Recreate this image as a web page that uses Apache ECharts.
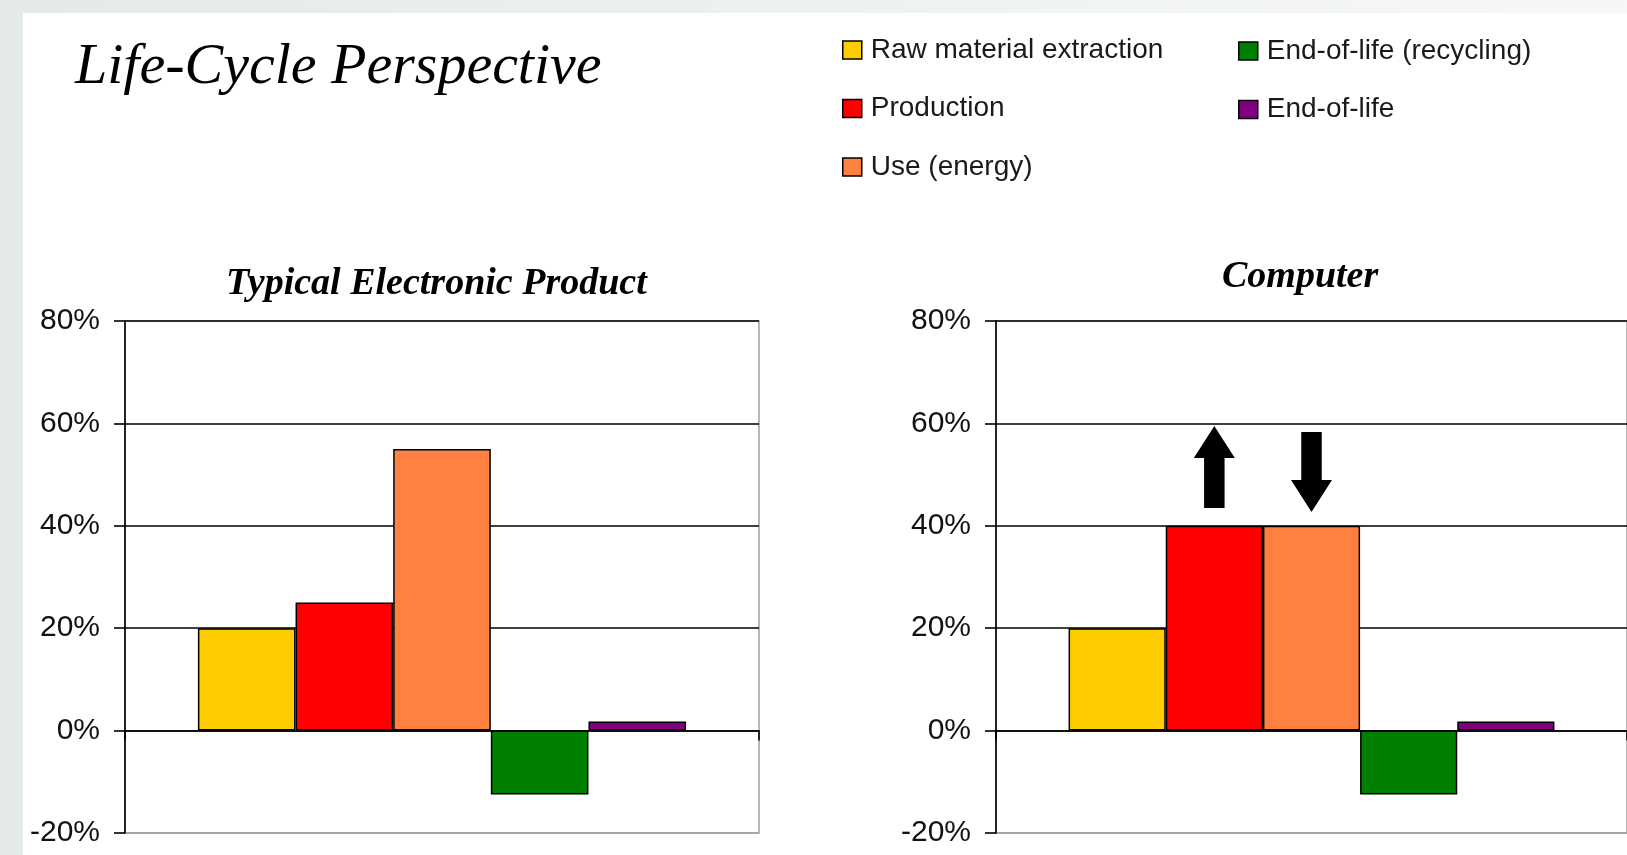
<!DOCTYPE html>
<html>
<head>
<meta charset="utf-8">
<script src="https://cdn.jsdelivr.net/npm/echarts@6/dist/echarts.min.js"></script>
<style>
  html, body { margin: 0; padding: 0; }
  body { width: 1627px; height: 855px; position: relative; overflow: hidden;
         background: linear-gradient(90deg, #e3eae7 0%, #edf2f0 50%, #f6f8f7 100%); }
  #panel { position: absolute; left: 23px; top: 13px; right: 0; bottom: 0; background: #ffffff; }
  #chart { position: absolute; left: 0; top: 0; width: 1627px; height: 855px; }
</style>
</head>
<body>
<div id="panel"></div>
<div id="chart"></div>
<script>
// ---- data ----
const stages = ['Raw material extraction', 'Production', 'Use (energy)', 'End-of-life (recycling)', 'End-of-life'];
const stageColors = ['#FFCC00', '#FF0000', '#FF8040', '#008000', '#800080'];
const typicalProduct = [20, 25, 55, -12.5, 1.8];
const computer = [20, 40, 40, -12.5, 1.8];
const yTicks = [-20, 0, 20, 40, 60, 80];
const chartTitles = ['Typical Electronic Product', 'Computer'];
const category = ['Life cycle'];
// arrows on the computer chart (value of arrow centre, on Production and Use bars)
const arrowUpValue = 51.5;
const arrowDownValue = 50.5;

const upArrow = 'path://M20 0 L40 32 L30 32 L30 82 L10 82 L10 32 L0 32 Z';
const downArrow = 'path://M10 0 L30 0 L30 48 L40 48 L20 80 L0 48 L10 48 Z';

const chart = echarts.init(document.getElementById('chart'), null, { renderer: 'canvas' });

const gridDefs = [
  { left: 125, top: 321, width: 634, height: 512, show: true, borderColor: '#a0a0a0', borderWidth: 1.5, backgroundColor: 'transparent' },
  { left: 996, top: 321, width: 634, height: 512, show: true, borderColor: '#a0a0a0', borderWidth: 1.5, backgroundColor: 'transparent' }
];

function xAxisDef(i) {
  return {
    type: 'category', gridIndex: i, data: category,
    boundaryGap: true,
    axisLine: { show: true, onZero: true, lineStyle: { color: '#000', width: 1.6 } },
    axisTick: { show: true, length: 10, inside: false, lineStyle: { color: '#000', width: 1.6 } },
    axisLabel: { show: false },
    splitLine: { show: false }
  };
}
function yAxisDef(i) {
  return {
    type: 'value', gridIndex: i,
    min: yTicks[0], max: yTicks[yTicks.length - 1], interval: 20,
    axisLine: { show: true, lineStyle: { color: '#000', width: 1.6 } },
    axisTick: { show: true, length: 11, inside: false, lineStyle: { color: '#000', width: 1.6 } },
    axisLabel: {
      margin: 25, color: '#111', fontSize: 30,
      fontFamily: '"Liberation Sans", Arial, sans-serif',
      formatter: v => v + '%'
    },
    splitLine: { show: true, lineStyle: { color: ['#a0a0a0', '#000', '#000', '#000', '#000', '#000'], width: 1.6 } }
  };
}

const series = [];
[typicalProduct, computer].forEach((vals, g) => {
  stages.forEach((name, i) => {
    const s = {
      name: name, type: 'bar',
      xAxisIndex: g, yAxisIndex: g,
      data: [vals[i]],
      barGap: '0%', barCategoryGap: '23%',
      itemStyle: { color: stageColors[i], borderColor: '#000', borderWidth: 1.5 },
      emphasis: { disabled: true },
      animation: false
    };
    if (g === 1 && i === 1) {
      s.markPoint = {
        symbol: upArrow, symbolSize: [41, 82],
        itemStyle: { color: '#000', borderWidth: 0 },
        label: { show: false },
        data: [{ coord: [category[0], arrowUpValue] }]
      };
    }
    if (g === 1 && i === 2) {
      s.markPoint = {
        symbol: downArrow, symbolSize: [41, 80],
        itemStyle: { color: '#000', borderWidth: 0 },
        label: { show: false },
        data: [{ coord: [category[0], arrowDownValue] }]
      };
    }
    series.push(s);
  });
});

const legendText = {
  color: '#1a1a1a', fontSize: 28, lineHeight: 30,
  fontFamily: '"Liberation Sans", Arial, sans-serif',
  padding: [0, 0, 0, 4]
};

const option = {
  backgroundColor: 'transparent',
  animation: false,
  title: [
    { text: 'Life-Cycle Perspective', left: 75, top: 39, padding: 0,
      textStyle: { fontFamily: '"Liberation Serif", "Times New Roman", serif', fontStyle: 'italic', fontWeight: 'normal', fontSize: 58, color: '#000' } },
    { text: chartTitles[0], left: 226, top: 265, padding: 0,
      textStyle: { fontFamily: '"Liberation Serif", "Times New Roman", serif', fontStyle: 'italic', fontWeight: 'bold', fontSize: 38, color: '#000' } },
    { text: chartTitles[1], left: 1222, top: 258, padding: 0,
      textStyle: { fontFamily: '"Liberation Serif", "Times New Roman", serif', fontStyle: 'italic', fontWeight: 'bold', fontSize: 38, color: '#000' } }
  ],
  legend: [
    { data: stages.slice(0, 3), orient: 'vertical', left: 842, top: 35, padding: 0,
      itemWidth: 19, itemHeight: 18, itemGap: 28.5, icon: 'rect',
      selectedMode: false, textStyle: legendText,
      itemStyle: { borderColor: '#000', borderWidth: 1.5 } },
    { data: stages.slice(3), orient: 'vertical', left: 1238, top: 36, padding: 0,
      itemWidth: 19, itemHeight: 18, itemGap: 28.5, icon: 'rect',
      selectedMode: false, textStyle: legendText,
      itemStyle: { borderColor: '#000', borderWidth: 1.5 } }
  ],
  grid: gridDefs,
  xAxis: [xAxisDef(0), xAxisDef(1)],
  yAxis: [yAxisDef(0), yAxisDef(1)],
  series: series
};

chart.setOption(option);
</script>
</body>
</html>
